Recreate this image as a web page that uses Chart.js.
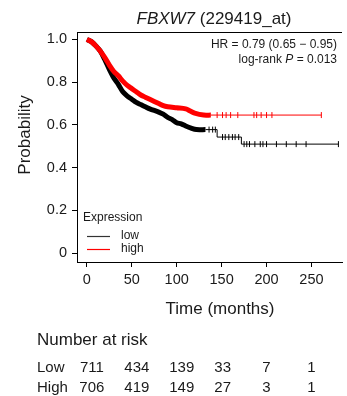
<!DOCTYPE html>
<html>
<head>
<meta charset="utf-8">
<script src="https://cdn.jsdelivr.net/npm/chart.js@4.4.1/dist/chart.umd.min.js"></script>
<style>
  html, body { margin: 0; padding: 0; background: #fff; }
</style>
</head>
<body>
<canvas id="km" width="347" height="396"></canvas>
<script>
// survival curves (months, probability)
const lowTimes = [0, 5, 10, 15, 20, 25, 30, 35, 40, 45, 50, 55, 60, 65, 70, 80, 85, 90, 95, 100, 105, 110, 116, 122, 132, 145, 172, 280];
const lowSurv = [1.0, 0.99, 0.97, 0.945, 0.905, 0.86, 0.82, 0.79, 0.755, 0.735, 0.72, 0.705, 0.695, 0.685, 0.675, 0.66, 0.65, 0.635, 0.625, 0.61, 0.605, 0.595, 0.585, 0.578, 0.578, 0.543, 0.51, 0.51];
const highTimes = [0, 5, 10, 15, 20, 25, 30, 35, 40, 45, 50, 55, 60, 65, 70, 80, 85, 90, 100, 110, 115, 120, 130, 138, 261];
const highSurv = [1.0, 0.99, 0.97, 0.945, 0.915, 0.88, 0.85, 0.83, 0.805, 0.785, 0.77, 0.755, 0.74, 0.73, 0.72, 0.70, 0.69, 0.685, 0.68, 0.675, 0.665, 0.655, 0.646, 0.646, 0.646];

// censoring marks in the sparse tail
const lowCensor = [136, 140, 143, 151, 154, 158, 162, 165, 169, 175, 178, 181, 187, 193, 196, 200, 211, 222, 233, 244, 280];
const highCensor = [145, 151, 155, 160, 168, 186, 189, 194, 200, 206, 261];

const xTicks = [0, 50, 100, 150, 200, 250];
const yTicks = [0, 0.2, 0.4, 0.6, 0.8, 1.0];

// number at risk
const riskTimes = [0, 50, 100, 150, 200, 250];
const riskLow = [711, 434, 139, 33, 7, 1];
const riskHigh = [706, 419, 149, 27, 3, 1];

// up to here the tick marks are so dense the curve reads as a thick band
const lowThickEnd = 132;
const highThickEnd = 138;

const FONT = '"Liberation Sans", Arial, sans-serif';
const INK = '#1a1a1a';

const survAt = (times, surv, t) => {
  let s = surv[0];
  for (let i = 0; i < times.length; i++) {
    if (times[i] <= t) s = surv[i];
  }
  return s;
};

const toPoints = (times, vals) => times.map((t, i) => ({x: t, y: vals[i]}));
const headPoints = (times, vals, end) => toPoints(times, vals).filter(p => p.x <= end);
const tailPoints = (times, vals, end) => toPoints(times, vals).filter(p => p.x >= end);
const censorPoints = (cens, times, surv) => cens.map(t => ({x: t, y: survAt(times, surv, t)}));

const extras = {
  id: 'extras',
  afterDraw(chart) {
    const ctx = chart.ctx;
    const area = chart.chartArea;
    const xs = chart.scales.x;
    ctx.save();

    // top frame line
    ctx.strokeStyle = '#000';
    ctx.lineWidth = 1;
    ctx.beginPath();
    ctx.moveTo(area.left, area.top + 0.5);
    ctx.lineTo(area.right, area.top + 0.5);
    ctx.stroke();

    ctx.fillStyle = INK;
    ctx.textBaseline = 'middle';

    // title: gene name in italics
    ctx.font = 'italic 17px ' + FONT;
    const gene = 'FBXW7';
    const rest = ' (229419_at)';
    const w1 = ctx.measureText(gene).width;
    ctx.font = '17px ' + FONT;
    const w2 = ctx.measureText(rest).width;
    let tx = 214 - (w1 + w2) / 2;
    ctx.textAlign = 'left';
    ctx.font = 'italic 17px ' + FONT;
    ctx.fillText(gene, tx, 19);
    ctx.font = '17px ' + FONT;
    ctx.fillText(rest, tx + w1, 19);

    // HR and log-rank
    ctx.font = '12px ' + FONT;
    ctx.textAlign = 'right';
    ctx.fillText('HR = 0.79 (0.65 \u2212 0.95)', 337, 45);
    const pVal = ' = 0.013';
    const pw = ctx.measureText(pVal).width;
    ctx.fillText(pVal, 337, 60);
    ctx.font = 'italic 12px ' + FONT;
    const pLetterW = ctx.measureText('P').width;
    ctx.fillText('P', 337 - pw, 60);
    ctx.font = '12px ' + FONT;
    ctx.fillText('log-rank ', 337 - pw - pLetterW, 60);

    // legend
    ctx.textAlign = 'left';
    ctx.font = '12px ' + FONT;
    ctx.fillText('Expression', 83, 218);
    ctx.fillText('low', 121, 236);
    ctx.fillText('high', 121, 249);
    ctx.lineWidth = 1.2;
    ctx.strokeStyle = '#333333';
    ctx.beginPath();
    ctx.moveTo(87, 236.5);
    ctx.lineTo(110, 236.5);
    ctx.stroke();
    ctx.strokeStyle = 'rgb(255,0,0)';
    ctx.beginPath();
    ctx.moveTo(87, 249.5);
    ctx.lineTo(110, 249.5);
    ctx.stroke();

    // axis titles
    ctx.font = '17px ' + FONT;
    ctx.textAlign = 'center';
    ctx.fillText('Time (months)', 220, 309);
    ctx.save();
    ctx.translate(25, 135);
    ctx.rotate(-Math.PI / 2);
    ctx.fillText('Probability', 0, 0);
    ctx.restore();

    // number at risk table
    ctx.textAlign = 'left';
    ctx.fillText('Number at risk', 37, 340);
    ctx.font = '15px ' + FONT;
    ctx.fillText('Low', 37, 368);
    ctx.fillText('High', 37, 388);
    ctx.textAlign = 'center';
    const shift = n => String(n).length >= 3 ? 5 : (String(n).length === 2 ? 1 : 0);
    riskTimes.forEach((t, i) => {
      const px = xs.getPixelForValue(t);
      ctx.fillText(String(riskLow[i]), px + shift(riskLow[i]), 368);
      ctx.fillText(String(riskHigh[i]), px + shift(riskHigh[i]), 388);
    });

    ctx.restore();
  }
};

const band = (label, data, color, order) => ({
  label: label,
  data: data,
  borderColor: color,
  borderWidth: 5,
  borderJoinStyle: 'round',
  borderCapStyle: 'butt',
  tension: 0.3,
  pointRadius: 0,
  order: order
});

const tail = (label, data, color, order) => ({
  label: label,
  data: data,
  borderColor: color,
  borderWidth: 1,
  stepped: true,
  pointRadius: 0,
  order: order
});

const ticksSet = (label, data, color, order) => ({
  label: label,
  data: data,
  showLine: false,
  pointStyle: 'line',
  rotation: 90,
  pointRadius: 3,
  pointBorderWidth: 1,
  pointBorderColor: color,
  order: order
});

new Chart(document.getElementById('km'), {
  type: 'line',
  data: {
    datasets: [
      band('high', headPoints(highTimes, highSurv, highThickEnd), '#ff0000', 1),
      tail('high tail', tailPoints(highTimes, highSurv, highThickEnd), '#ff0000', 1),
      ticksSet('high censored', censorPoints(highCensor, highTimes, highSurv), '#ff0000', 1),
      band('low', headPoints(lowTimes, lowSurv, lowThickEnd), '#000000', 2),
      tail('low tail', tailPoints(lowTimes, lowSurv, lowThickEnd), '#000000', 2),
      ticksSet('low censored', censorPoints(lowCensor, lowTimes, lowSurv), '#000000', 2)
    ]
  },
  options: {
    responsive: false,
    animation: false,
    layout: {padding: {top: 32, right: 0, left: 0, bottom: 0}},
    plugins: {
      legend: {display: false},
      tooltip: {enabled: false}
    },
    scales: {
      x: {
        type: 'linear',
        min: -11,
        max: 284,
        afterFit: scale => { scale.height = 134; },
        afterBuildTicks: scale => { scale.ticks = xTicks.map(v => ({value: v})); },
        grid: {drawOnChartArea: false, tickLength: 5, color: '#000', tickWidth: 1},
        border: {display: true, color: '#000', width: 1},
        ticks: {
          color: INK,
          padding: 4,
          maxRotation: 0,
          font: {family: FONT, size: 14.5},
          callback: v => String(v)
        }
      },
      y: {
        type: 'linear',
        min: -0.042,
        max: 1.035,
        afterFit: scale => { scale.width = 77; },
        afterBuildTicks: scale => { scale.ticks = yTicks.map(v => ({value: v})); },
        grid: {drawOnChartArea: false, tickLength: 5, color: '#000', tickWidth: 1},
        border: {display: true, color: '#000', width: 1},
        ticks: {
          color: INK,
          padding: 5,
          font: {family: FONT, size: 14.5},
          callback: v => v === 0 ? '0' : v.toFixed(1)
        }
      }
    }
  },
  plugins: [extras]
});
</script>
</body>
</html>
